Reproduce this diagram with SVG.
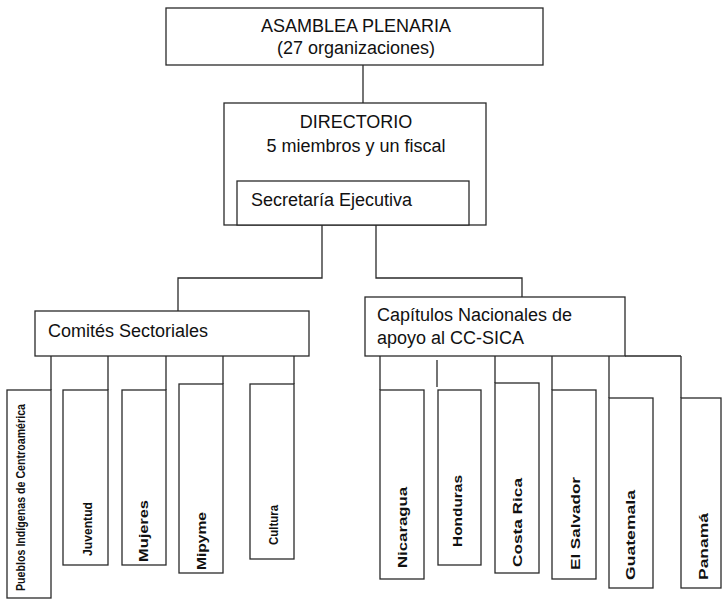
<svg xmlns="http://www.w3.org/2000/svg" width="723" height="603" viewBox="0 0 723 603">
<style>
.box{fill:#fff;stroke:#2a2a2a;stroke-width:1.3}
.ln{fill:none;stroke:#2a2a2a;stroke-width:1.3}
.t{font-family:"Liberation Sans",Arial,sans-serif;font-size:18px;fill:#111}
.c{text-anchor:middle}
.v{font-family:"Liberation Sans",Arial,sans-serif;font-size:12px;font-weight:bold;fill:#111}
</style>
<rect width="723" height="603" fill="#fff"/>
<g id="connectors">
<path class="ln" d="M363,65 V103"/>
<path class="ln" d="M322,225 V278 H178 V311"/>
<path class="ln" d="M376,225 V278 H522 V297"/>
<path class="ln" d="M51,356 V390 M108,356 V390 M166,356 V390 M223,356 V384 M294,356 V384"/>
<path class="ln" d="M625,356 H681 M380,356 V390 M437,360 V387 M495,356 V383 M552,356 V390 M609,356 V398 M681,356 V398"/>
</g>
<g id="asamblea">
<rect class="box" x="166" y="8" width="377" height="57"/>
<text class="t c" x="356" y="32">ASAMBLEA PLENARIA</text>
<text class="t c" x="356" y="54">(27 organizaciones)</text>
</g>
<g id="directorio">
<rect class="box" x="224" y="103" width="262" height="122"/>
<text class="t c" x="356" y="128">DIRECTORIO</text>
<text class="t c" x="356" y="152">5 miembros y un fiscal</text>
</g>
<g id="secretaria">
<rect class="box" x="237" y="181" width="232" height="44"/>
<text class="t" x="251" y="206">Secretaría Ejecutiva</text>
</g>
<g id="comites">
<rect class="box" x="35" y="311" width="274" height="45"/>
<text class="t" x="48" y="337">Comités Sectoriales</text>
</g>
<g id="capitulos">
<rect class="box" x="365" y="297" width="260" height="59"/>
<text class="t" x="377" y="321">Capítulos Nacionales de</text>
<text class="t" x="377" y="344">apoyo al CC-SICA</text>
</g>
<g id="c1"><rect class="box" x="7" y="390" width="44" height="208"/>
<text class="v" transform="translate(25,591) rotate(-90)" textLength="187" lengthAdjust="spacingAndGlyphs">Pueblos Indígenas de Centroamérica</text></g>
<g id="c2"><rect class="box" x="63" y="390" width="45" height="175"/>
<text class="v" transform="translate(92,556) rotate(-90)" textLength="54" lengthAdjust="spacingAndGlyphs">Juventud</text></g>
<g id="c3"><rect class="box" x="122" y="390" width="44" height="175"/>
<text class="v" transform="translate(148,562) rotate(-90)" textLength="62" lengthAdjust="spacingAndGlyphs">Mujeres</text></g>
<g id="c4"><rect class="box" x="179" y="384" width="44" height="189"/>
<text class="v" transform="translate(206,570) rotate(-90)" textLength="58" lengthAdjust="spacingAndGlyphs">Mipyme</text></g>
<g id="c5"><rect class="box" x="250" y="384" width="44" height="175"/>
<text class="v" transform="translate(278,545) rotate(-90)" textLength="40" lengthAdjust="spacingAndGlyphs">Cultura</text></g>
<g id="n1"><rect class="box" x="380" y="390" width="44" height="189"/>
<text class="v" transform="translate(407,568) rotate(-90)" textLength="81" lengthAdjust="spacingAndGlyphs">Nicaragua</text></g>
<g id="n2"><rect class="box" x="438" y="390" width="43" height="175"/>
<text class="v" transform="translate(462,547) rotate(-90)" textLength="72" lengthAdjust="spacingAndGlyphs">Honduras</text></g>
<g id="n3"><rect class="box" x="495" y="383" width="44" height="190"/>
<text class="v" transform="translate(522,567) rotate(-90)" textLength="89" lengthAdjust="spacingAndGlyphs">Costa Rica</text></g>
<g id="n4"><rect class="box" x="552" y="390" width="44" height="189"/>
<text class="v" transform="translate(580,570) rotate(-90)" textLength="93" lengthAdjust="spacingAndGlyphs">El Salvador</text></g>
<g id="n5"><rect class="box" x="609" y="398" width="44" height="190"/>
<text class="v" transform="translate(635,580) rotate(-90)" textLength="90" lengthAdjust="spacingAndGlyphs">Guatemala</text></g>
<g id="n6"><rect class="box" x="681" y="398" width="40" height="190"/>
<text class="v" transform="translate(708,580) rotate(-90)" textLength="67" lengthAdjust="spacingAndGlyphs">Panamá</text></g>
</svg>
